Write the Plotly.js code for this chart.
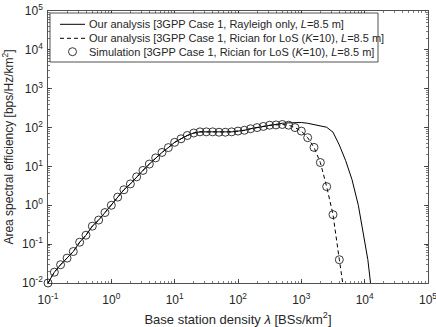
<!DOCTYPE html>
<html>
<head>
<meta charset="utf-8">
<script src="https://cdn.plot.ly/plotly-3.0.1.min.js"></script>
<style>
  html, body { margin: 0; padding: 0; background: #fff; }
  #chart { width: 436px; height: 327px; }
</style>
</head>
<body>
<div id="chart"></div>
<script>
// simulation points (circles), also the dashed Rician curve
let simDensity = [0.1, 0.126, 0.158, 0.2, 0.251, 0.316, 0.398, 0.501, 0.631, 0.794,
    1, 1.26, 1.58, 2, 2.51, 3.16, 3.98, 5.01, 6.31, 7.94,
    10, 12.6, 15.8, 20, 25.1, 31.6, 39.8, 50.1, 63.1, 79.4,
    100, 126, 158, 200, 251, 316, 398, 501, 631, 794,
    1000, 1259, 1585, 1995, 2512, 3162, 3981];
let simASE = [0.0100, 0.0190, 0.0295, 0.0437, 0.0646, 0.112, 0.170, 0.290, 0.417, 0.650,
    1.0, 1.62, 2.51, 3.55, 5.4, 7.9, 11.5, 16.6, 22.9, 30.5,
    41.7, 51.5, 62.5, 72.5, 77.6, 77.6, 77.6, 75.9, 75.9, 77.6,
    81.3, 85.1, 93.3, 100, 107, 115, 117, 120, 115, 100,
    81.3, 55.0, 30.9, 12.6, 3.02, 0.575, 0.0398];

// dashed analysis continues below the axis
let ricDensity = simDensity.concat([5012]);
let ricASE = simASE.concat([0.003]);

// solid Rayleigh-only analysis
let rayDensity = [0.1, 0.126, 0.158, 0.2, 0.251, 0.316, 0.398, 0.501, 0.631, 0.794,
    1, 1.26, 1.58, 2, 2.51, 3.16, 3.98, 5.01, 6.31, 7.94,
    10, 12.6, 15.8, 20, 25.1, 31.6, 39.8, 50.1, 63.1, 79.4,
    100, 126, 158, 200, 251, 316, 398, 501, 631, 794,
    1000, 1259, 1585, 1995, 2512, 3162, 3981, 5012, 6310, 7943,
    10000, 11220, 12589];
let rayASE = [0.0100, 0.0190, 0.0295, 0.0437, 0.0646, 0.112, 0.170, 0.290, 0.417, 0.650,
    1.0, 1.62, 2.51, 3.55, 5.4, 7.9, 11.5, 16.6, 22.9, 30.5,
    41.7, 51.5, 62.5, 72.5, 77.6, 77.6, 77.6, 75.9, 75.9, 77.6,
    81.3, 85.1, 93.3, 100, 109, 117, 123, 129, 132, 136,
    135, 129, 120, 110, 102, 76, 35.5, 14.1, 4.57, 1.0,
    0.12, 0.04, 0.0079];

let xTicks = [0.1, 1, 10, 100, 1000, 10000, 100000];
let xLabels = ['10<sup>-1</sup>', '10<sup>0</sup>', '10<sup>1</sup>', '10<sup>2</sup>',
    '10<sup>3</sup>', '10<sup>4</sup>', '10<sup>5</sup>'];
let yTicks = [0.01, 0.1, 1, 10, 100, 1000, 10000, 100000];
let yLabels = ['10<sup>-2</sup>', '10<sup>-1</sup>', '10<sup>0</sup>', '10<sup>1</sup>',
    '10<sup>2</sup>', '10<sup>3</sup>', '10<sup>4</sup>', '10<sup>5</sup>'];

let names = [
    'Our analysis [3GPP Case 1, Rayleigh only, <i>L</i>=8.5 m]',
    'Our analysis [3GPP Case 1, Rician for LoS (<i>K</i>=10), <i>L</i>=8.5 m]',
    'Simulation [3GPP Case 1, Rician for LoS (<i>K</i>=10), <i>L</i>=8.5 m]'
];

let ink = '#262626';

// plot box in pixels
let W = 436, H = 327;
let mar = {l: 48, r: 8, t: 11, b: 44};
let pw = W - mar.l - mar.r, ph = H - mar.t - mar.b;
let px = (x) => (x - mar.l) / pw;
let py = (y) => (H - mar.b - y) / ph;

function axisStyle(tickvals, ticktext, range, title, titleSize, standoff) {
    return {
        type: 'log',
        range: range,
        tickvals: tickvals,
        ticktext: ticktext,
        ticks: 'inside',
        ticklen: 4,
        tickwidth: 0.8,
        tickcolor: ink,
        ticklabelstandoff: standoff,
        ticklabeloverflow: 'allow',
        minor: {ticks: 'inside', ticklen: 2, tickwidth: 0.6, tickcolor: ink, dtick: 'D1'},
        showline: true,
        linecolor: ink,
        linewidth: 0.8,
        mirror: 'allticks',
        showgrid: false,
        zeroline: false,
        tickfont: {size: 12, color: ink},
        title: {text: title, font: {size: titleSize, color: ink}, standoff: 8},
        automargin: false
    };
}

// legend drawn by hand so the rows sit as tight as in the picture
let rows = [24.3, 38.3, 51.7];
let shapes = [
    {type: 'rect', xref: 'paper', yref: 'paper', x0: px(50), x1: px(378), y0: py(13), y1: py(62),
        line: {color: ink, width: 0.8}, fillcolor: '#fff', layer: 'above'},
    {type: 'line', xref: 'paper', yref: 'paper', x0: px(60), x1: px(85), y0: py(rows[0]), y1: py(rows[0]),
        line: {color: '#000', width: 1}, layer: 'above'},
    {type: 'line', xref: 'paper', yref: 'paper', x0: px(60), x1: px(85), y0: py(rows[1]), y1: py(rows[1]),
        line: {color: '#000', width: 1, dash: '4px,3px'}, layer: 'above'},
    {type: 'circle', xref: 'paper', yref: 'paper', xsizemode: 'pixel', ysizemode: 'pixel',
        xanchor: px(72.5), yanchor: py(rows[2]), x0: -4, x1: 4, y0: -4, y1: 4,
        line: {color: '#222', width: 0.9}, layer: 'above'}
];
let annotations = names.map((n, i) => ({
    text: n, xref: 'paper', yref: 'paper', x: px(87), y: py(rows[i]),
    xanchor: 'left', yanchor: 'middle', showarrow: false,
    font: {size: 11, color: ink}
}));

Plotly.newPlot('chart', [{
    x: rayDensity,
    y: rayASE,
    name: names[0],
    mode: 'lines',
    line: {color: '#000', width: 1}
}, {
    x: ricDensity,
    y: ricASE,
    name: names[1],
    mode: 'lines',
    line: {color: '#000', width: 1, dash: '4px,3px'}
}, {
    x: simDensity,
    y: simASE,
    name: names[2],
    mode: 'markers',
    cliponaxis: false,
    marker: {symbol: 'circle-open', size: 8, color: '#222', line: {width: 0.9}}
}], {
    width: W,
    height: H,
    margin: mar,
    paper_bgcolor: '#fff',
    plot_bgcolor: '#fff',
    font: {family: '"Liberation Sans", Arial, sans-serif', color: ink},
    showlegend: false,
    shapes: shapes,
    annotations: annotations,
    xaxis: axisStyle(xTicks, xLabels, [-1, 5], 'Base station density <i>λ</i> [BSs/km<sup>2</sup>]', 13, 6),
    yaxis: axisStyle(yTicks, yLabels, [-2, 5], 'Area spectral efficiency [bps/Hz/km<sup>2</sup>]', 12, 2)
}, {displayModeBar: false, staticPlot: true});
</script>
</body>
</html>
